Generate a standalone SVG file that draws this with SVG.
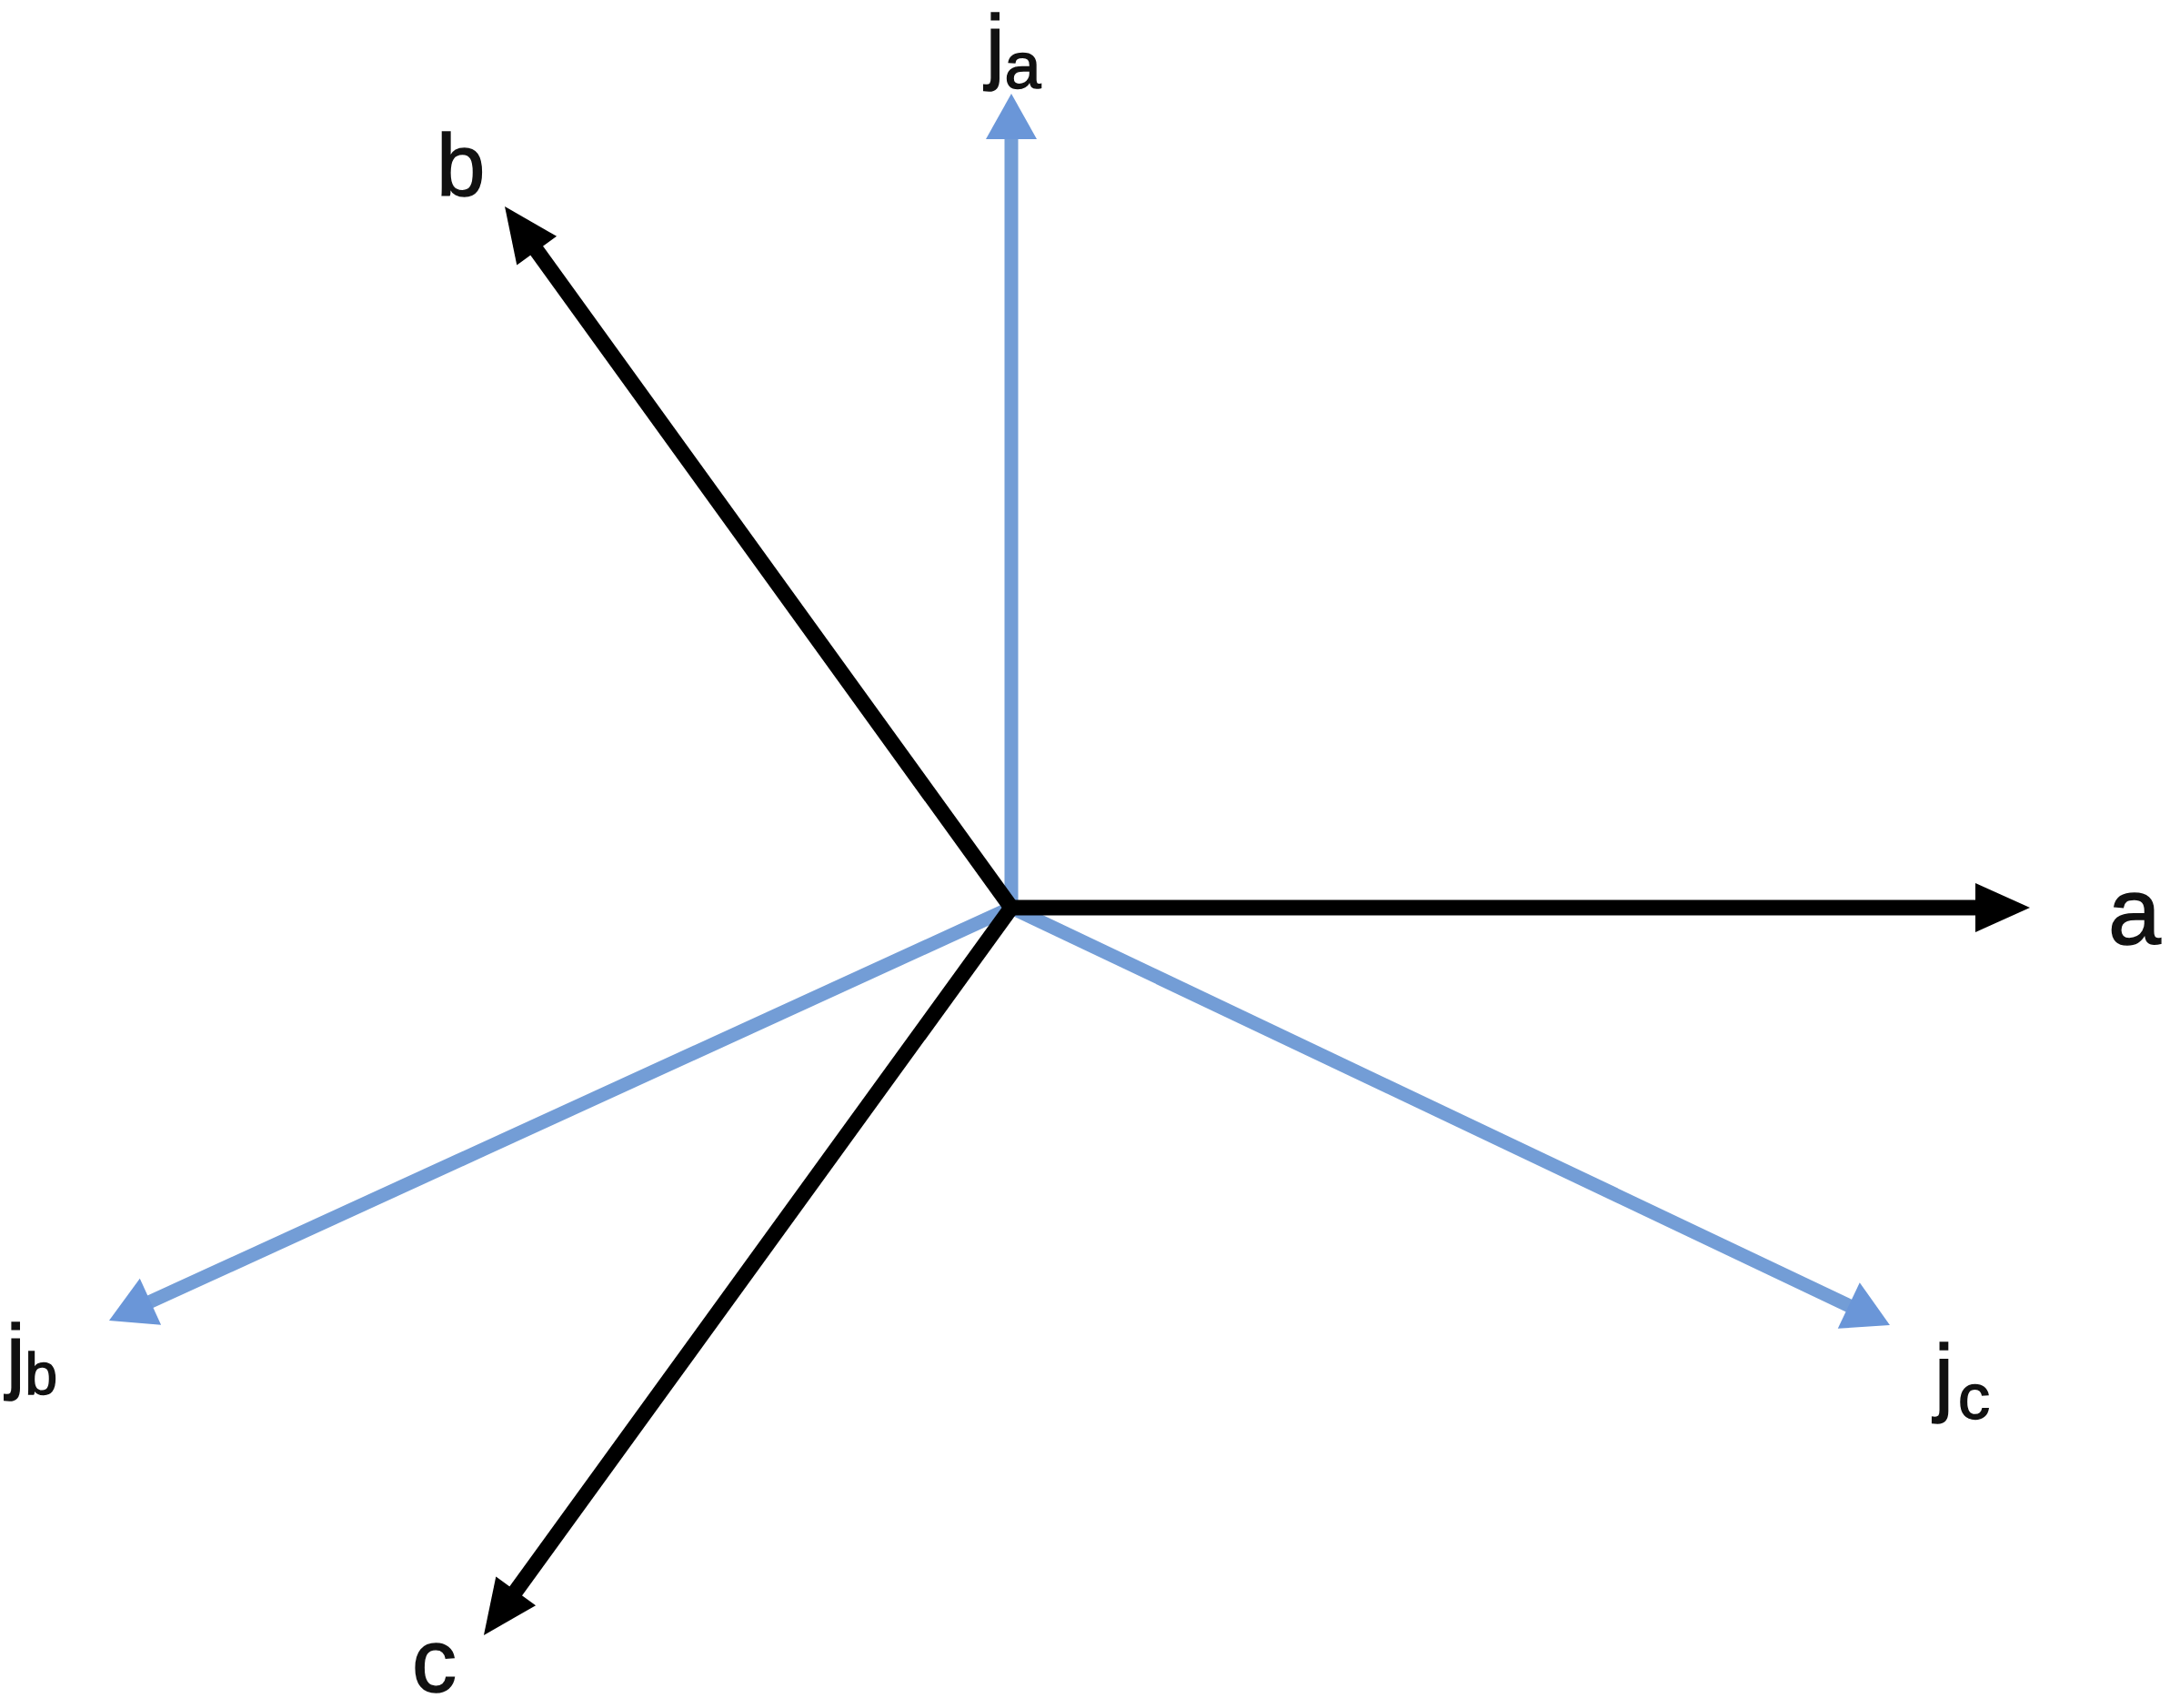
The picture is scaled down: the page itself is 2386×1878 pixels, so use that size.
<svg xmlns="http://www.w3.org/2000/svg" width="2386" height="1878" viewBox="0 0 2386 1878">
<style>
.lbl{font-family:"Liberation Sans",Arial,sans-serif;fill:#111;stroke:#111;stroke-width:1.5}
.k{stroke:#000;stroke-width:17;fill:none}
.bl{stroke:#739dd6;stroke-width:15;fill:none}
</style>
<defs>
<marker id="hk" markerUnits="userSpaceOnUse" markerWidth="80" markerHeight="80" refX="2" refY="0" viewBox="-5 -40 80 80" orient="auto" overflow="visible">
<path d="M0,-27 L60,0 L0,27 Z" fill="#000"/>
</marker>
<marker id="hb" markerUnits="userSpaceOnUse" markerWidth="80" markerHeight="80" refX="2" refY="0" viewBox="-5 -40 80 80" orient="auto" overflow="visible">
<path d="M0,-28 L50,0 L0,28 Z" fill="#6a96d8"/>
</marker>
</defs>
<rect width="2386" height="1878" fill="#fff"/>
<g id="connectors">
<line class="bl" x1="1112" y1="998" x2="1112" y2="151" stroke-width="18" marker-end="url(#hb)"/>
<line class="bl" x1="1112" y1="998" x2="163.6" y2="1432" marker-end="url(#hb)"/>
<line class="bl" x1="1112" y1="998" x2="2034.6" y2="1436.4" marker-end="url(#hb)"/>
<line class="k" x1="1112" y1="998" x2="2174" y2="998" marker-end="url(#hk)"/>
<line class="k" x1="1112" y1="998" x2="589" y2="274" marker-end="url(#hk)"/>
<line class="k" x1="1112" y1="998" x2="566" y2="1751" marker-end="url(#hk)"/>
</g>
<g id="node-a"><text class="lbl" x="2318" y="1038" font-size="104">a</text></g>
<g id="node-b"><text class="lbl" x="480" y="215" font-size="96">b</text></g>
<g id="node-c"><text class="lbl" x="453" y="1860" font-size="98">c</text></g>
<g id="node-ja"><text class="lbl" x="1084" y="81" font-size="92">j<tspan font-size="72" y="97">a</tspan></text></g>
<g id="node-jb"><text class="lbl" x="7" y="1521" font-size="92">j<tspan font-size="64" y="1533">b</tspan></text></g>
<g id="node-jc"><text class="lbl" x="2127" y="1545" font-size="94">j<tspan font-size="70" dx="5" y="1560">c</tspan></text></g>
</svg>
